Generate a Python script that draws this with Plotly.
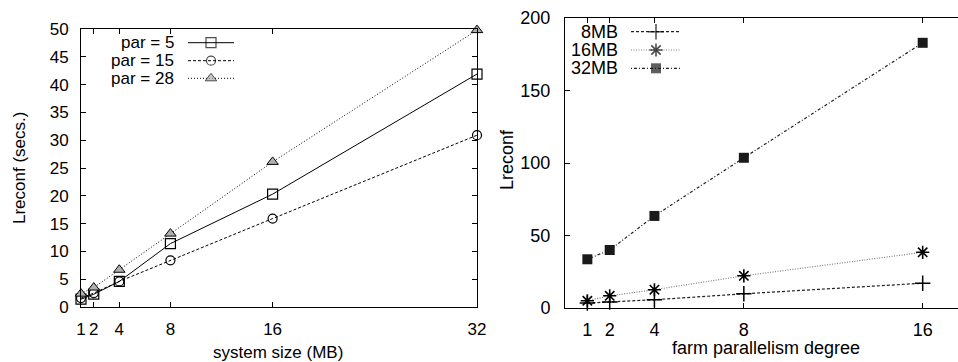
import plotly.graph_objects as go

# ---------------- data ----------------
size_mb = [1, 2, 4, 8, 16, 32]
par5 = [1.4, 2.3, 4.6, 11.4, 20.3, 41.9]
par15 = [1.6, 2.5, 4.6, 8.4, 15.9, 30.9]
par28 = [2.4, 3.5, 6.7, 13.2, 26.1, 49.8]
left_names = ["par = 5", "par = 15", "par = 28"]

farm_par = [1, 2, 4, 8, 16]
mb8 = [3.4, 4.1, 5.7, 9.8, 17.1]
mb16 = [5.0, 8.4, 12.6, 22.2, 38.4]
mb32 = [33.6, 40.0, 63.5, 103.6, 182.9]
right_names = ["8MB", "16MB", "32MB"]

left_yticks = [0, 5, 10, 15, 20, 25, 30, 35, 40, 45, 50]
right_yticks = [0, 50, 100, 150, 200]

W, H = 958, 362
FONT = "Liberation Sans, Arial, Helvetica, sans-serif"

# styles
left_styles = [
    dict(line=dict(color="black", width=1, dash="solid"),
         marker=dict(symbol="square-open", size=10, color="black", line=dict(width=1.2))),
    dict(line=dict(color="black", width=1, dash="3px,2px"),
         marker=dict(symbol="circle-open", size=9, color="black", line=dict(width=1.2))),
    dict(line=dict(color="black", width=1, dash="1px,2px"),
         marker=dict(symbol="triangle-up", size=10, color="#b0b0b0", line=dict(width=1, color="black"))),
]
right_styles = [
    dict(line=dict(color="#222222", width=1.2, dash="3px,2px"),
         marker=dict(symbol="cross-thin-open", size=11, color="black", line=dict(width=1.5, color="black"))),
    dict(line=dict(color="#808080", width=1.2, dash="1px,1.5px"),
         marker=dict(symbol="asterisk-open", size=11, color="black", line=dict(width=1.6, color="black"))),
    dict(line=dict(color="#222222", width=1.2, dash="1px,2px,3px,2px"),
         marker=dict(symbol="square", size=10, color="#1a1a1a", line=dict(width=0))),
]

fig = go.Figure()

for yv, name, st in zip([par5, par15, par28], left_names, left_styles):
    fig.add_trace(go.Scatter(x=size_mb, y=yv, name=name, mode="lines+markers",
                             xaxis="x", yaxis="y", cliponaxis=False, showlegend=False, **st))

for yv, name, st in zip([mb8, mb16, mb32], right_names, right_styles):
    fig.add_trace(go.Scatter(x=farm_par, y=yv, name=name, mode="lines+markers",
                             xaxis="x2", yaxis="y2", cliponaxis=False, showlegend=False, **st))

# ---------------- gnuplot-style keys (pixel overlay axis) ----------------
annotations = []
def key(names, styles, text_right, x0, x1, y_rows, fsize):
    for name, st, yy in zip(names, styles, y_rows):
        xm = (x0 + x1) / 2
        ms = st["marker"]["size"]
        fig.add_trace(go.Scatter(
            x=[x0, xm, x1], y=[yy, yy, yy], mode="lines+markers",
            xaxis="x3", yaxis="y3", showlegend=False, hoverinfo="skip", cliponaxis=False,
            line=st["line"],
            marker=dict(symbol=st["marker"]["symbol"], size=[0, ms, 0],
                        color=st["marker"]["color"], line=st["marker"]["line"])))
        annotations.append(dict(text=name, x=text_right / W, y=1 - yy / H, xref="paper", yref="paper",
                                xanchor="right", yanchor="middle", showarrow=False,
                                font=dict(family=FONT, size=fsize, color="black")))

key(left_names, left_styles, 176, 188, 234, [42.7, 60.7, 78.3], 17)
key(right_names, right_styles, 620, 631, 681, [31.7, 50, 68.3], 18)

# axis titles
annotations += [
    dict(text="Lreconf (secs.)", x=20 / W, y=1 - 168 / H, textangle=-90),
    dict(text="system size (MB)", x=278 / W, y=1 - 352 / H),
    dict(text="Lreconf", x=507 / W, y=1 - 160 / H, textangle=-90, font=dict(family=FONT, size=18, color="black")),
    dict(text="farm parallelism degree", x=766 / W, y=1 - 348 / H, font=dict(family=FONT, size=18, color="black")),
]
for a in annotations[-4:]:
    a.update(xref="paper", yref="paper", xanchor="center", yanchor="middle", showarrow=False)
    a.setdefault("font", dict(family=FONT, size=17, color="black"))

axis_common = dict(showline=True, linecolor="black", linewidth=1, ticks="inside", ticklen=5,
                   tickwidth=1, tickcolor="black", showgrid=False, zeroline=False, automargin=False)

fig.update_layout(
    width=W, height=H, autosize=False,
    margin=dict(l=0, r=0, t=0, b=0, pad=0),
    paper_bgcolor="white", plot_bgcolor="rgba(0,0,0,0)",
    showlegend=False,
    font=dict(family=FONT, size=17, color="black"),
    xaxis=dict(domain=[81 / W, 477 / W], range=[1, 32], anchor="y", mirror="ticks",
               tickvals=size_mb, ticktext=[str(v) for v in size_mb], ticklabelstandoff=7,
               tickfont=dict(size=17), **axis_common),
    yaxis=dict(domain=[1 - 307 / H, 1 - 29 / H], range=[0, 50], anchor="x", mirror="ticks",
               tickvals=left_yticks, ticktext=[str(v) for v in left_yticks], ticklabelstandoff=8,
               tickfont=dict(size=17), **axis_common),
    xaxis2=dict(domain=[565 / W, 1.0], range=[0, 17.58], anchor="y2", mirror="ticks",
                tickvals=farm_par, ticktext=[str(v) for v in farm_par], ticklabelstandoff=5,
                tickfont=dict(size=18), **axis_common),
    yaxis2=dict(domain=[1 - 308 / H, 1 - 18 / H], range=[0, 200], anchor="x2", mirror=False,
                tickvals=right_yticks, ticktext=[str(v) for v in right_yticks], ticklabelstandoff=10,
                tickfont=dict(size=18), **axis_common),
    xaxis3=dict(domain=[0, 1], range=[0, W], visible=False, anchor="y3", fixedrange=True, automargin=False),
    yaxis3=dict(domain=[0, 1], range=[H, 0], visible=False, anchor="x3", fixedrange=True, automargin=False),
    annotations=annotations,
)

fig.write_html("out.html")
